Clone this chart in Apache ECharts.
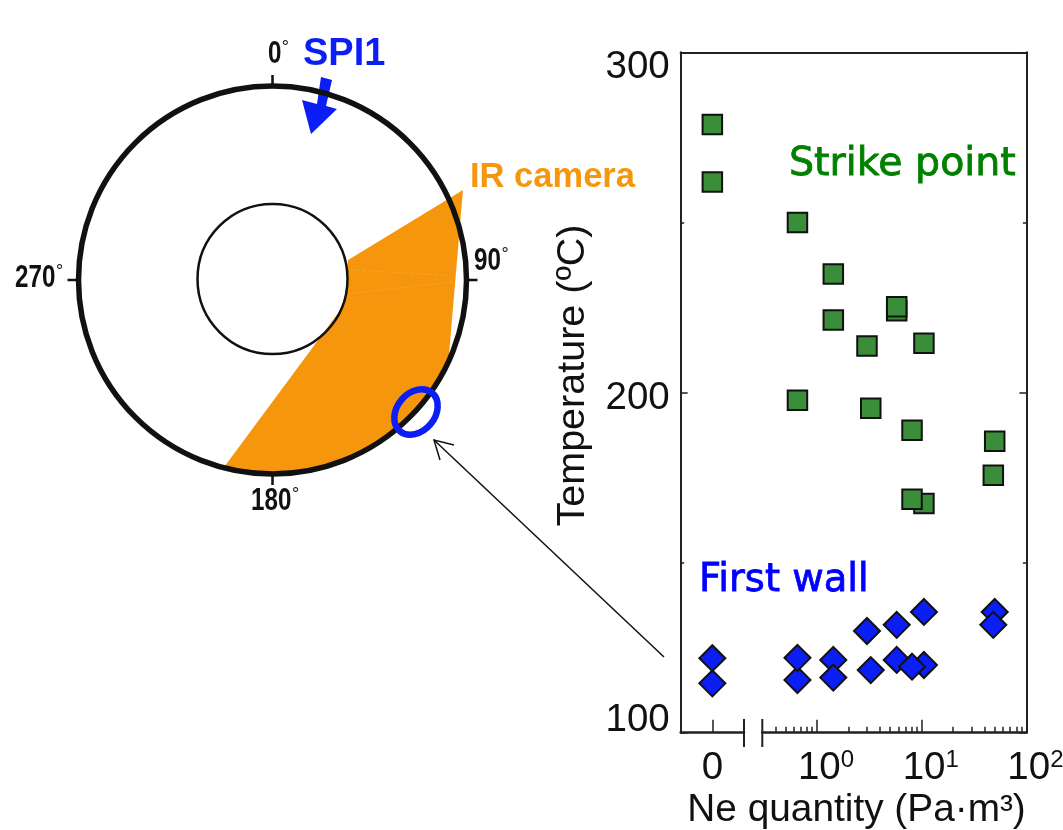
<!DOCTYPE html>
<html>
<head>
<meta charset="utf-8">
<title>Ne quantity and temperature</title>
<script src="https://cdn.jsdelivr.net/npm/echarts@6/dist/echarts.min.js"></script>
<style>
html,body{margin:0;padding:0;background:#fff;overflow:hidden;}
#main{width:1063px;height:830px;}
</style>
</head>
<body>
<div id="main"></div>
<script>
// scatter values
let spZeroTemp = [278.8, 261.9];
let spNe = [0.65, 1.43, 1.43, 5.77, 5.77, 3.0, 10.5, 0.65, 3.26, 8.08, 49.8, 48.3, 10.5, 8.08];
let spTemp = [250.0, 234.8, 221.3, 224.0, 225.2, 213.7, 214.5, 197.7, 195.4, 188.9, 185.7, 175.7, 167.4, 168.6];
let fwZeroTemp = [114.5, 121.9];
let fwNe = [0.65, 0.65, 1.43, 1.43, 3.0, 3.26, 5.77, 5.77, 10.5, 8.08, 10.5, 49.8, 48.3];
let fwTemp = [115.5, 122.0, 121.4, 116.2, 129.9, 118.4, 131.7, 121.4, 119.9, 119.4, 135.5, 135.5, 131.7];

// axis ticks
let logMajor = [1, 10, 100];
let logMinor = [0.4, 0.5, 0.6, 0.7, 0.8, 0.9, 2, 3, 4, 5, 6, 7, 8, 9, 20, 30, 40, 50, 60, 70, 80, 90];

// IR camera view on the torus section, radius 1 = vessel wall, angle clockwise from top
let irRadius = [1.086, 0.403, 0.387, 0.387, 0.387, 0.38, 1, 1, 1, 1, 1, 1, 0.99];
let irAngle = [64.7, 75.2, 85, 95, 105, 115.7, 194.6, 180, 165, 150, 135, 125, 113.3];
let seamARadius = [0.403, 0.9];
let seamAAngle = [82.6, 88.4];
let seamBRadius = [0.42, 0.93];
let seamBAngle = [99.2, 90.6];

let FONT = '"Liberation Sans", Arial, sans-serif';
let AXIS_COLOR = '#222';
let GREEN = '#3a8e3a';
let BLUE = '#0a1ef5';

function pairs(a, b){
    var out = [];
    for(var i=0;i<a.length;i++){
        out.push([a[i], b[i]]);
    }
    return out;
}

function yHidden(grid){
    return {type:'value', gridIndex:grid, min:100, max:300, show:false};
}

function scatter(name, xIndex, yIndex, data, symbol, size, color){
    return {
        name: name,
        type: 'scatter',
        xAxisIndex: xIndex,
        yAxisIndex: yIndex,
        data: data,
        symbol: symbol,
        symbolSize: size,
        itemStyle: {color: color, borderColor: '#111', borderWidth: 2, opacity: 1},
        z: 5
    };
}

function seam(radius, angle){
    return {
        type: 'line',
        coordinateSystem: 'polar',
        polarIndex: 0,
        data: pairs(radius, angle),
        symbol: 'none',
        silent: true,
        lineStyle: {color: '#f7a22c', width: 1, type: 'dashed'},
        z: 2
    };
}

// narrow tall degree labels, no condensed font is installed so the text is squeezed
function angleText(label, x, y){
    return [
        {
            type: 'text', x: x, y: y, scaleX: 0.78, z: 6,
            style: {text: label, font: 'bold 31px ' + FONT, fill: '#111', align: 'left', verticalAlign: 'middle'}
        },
        {
            type: 'text', x: x + label.length * 13.7, y: y - 6, z: 6,
            style: {text: '°', font: '18px ' + FONT, fill: '#111', align: 'left', verticalAlign: 'middle'}
        }
    ];
}

let tickLabelRich = {
    b: {fontFamily: FONT, fontSize: 38.5, color: '#111', lineHeight: 40},
    s: {fontFamily: FONT, fontSize: 24, color: '#111', verticalAlign: 'top', lineHeight: 40, padding: [0,0,14,0]}
};

// the temperature labels sit off their ticks in the figure
let tempLabelRich = {
    t300: {fontFamily: FONT, fontSize: 38.5, color: '#111', padding: [30,0,0,0]},
    t200: {fontFamily: FONT, fontSize: 38.5, color: '#111', padding: [12,0,0,0]},
    t100: {fontFamily: FONT, fontSize: 38.5, color: '#111', padding: [0,0,24,0]}
};

option = {
    animation: false,
    backgroundColor: '#fff',
    grid: [
        {left: 680.7, top: 52.3, width: 63.3, height: 680.4, outerBoundsMode: 'none'},
        {left: 762.3, top: 52.3, width: 264.1, height: 680.4, outerBoundsMode: 'none'},
        {left: 680.7, top: 52.3, width: 345.7, height: 680.4, outerBoundsMode: 'none'}
    ],
    xAxis: [
        {
            type: 'value', gridIndex: 0, position: 'bottom', min: -1, max: 1,
            splitLine: {show: false},
            axisLine: {lineStyle: {color: AXIS_COLOR, width: 2.5}},
            axisTick: {inside: true, length: 13, customValues: [0], lineStyle: {color: AXIS_COLOR, width: 1.5}},
            axisLabel: {customValues: [0], margin: 16, fontFamily: FONT, fontSize: 38.5, color: '#111'}
        },
        {
            type: 'log', gridIndex: 1, position: 'bottom', logBase: 10, min: 0.3, max: 100,
            splitLine: {show: false},
            axisLine: {lineStyle: {color: AXIS_COLOR, width: 2.5}},
            axisTick: {inside: true, length: 13, customValues: logMajor, lineStyle: {color: AXIS_COLOR, width: 1.5}},
            axisLabel: {
                customValues: logMajor, margin: 16, rich: tickLabelRich,
                padding: [0, 0, 0, 18],
                formatter: function(v){ return '{b|10}{s|' + Math.round(Math.log10(v)) + '}'; }
            }
        },
        {
            type: 'log', gridIndex: 1, position: 'bottom', logBase: 10, min: 0.3, max: 100,
            splitLine: {show: false},
            axisLine: {show: false},
            axisLabel: {show: false},
            axisTick: {inside: true, length: 6, customValues: logMinor, lineStyle: {color: AXIS_COLOR, width: 1.5}}
        },
        {
            type: 'value', gridIndex: 2, position: 'top', min: 0, max: 1,
            splitLine: {show: false},
            axisLine: {lineStyle: {color: AXIS_COLOR, width: 2}},
            axisTick: {show: false}, axisLabel: {show: false}
        },
        {
            type: 'value', gridIndex: 2, position: 'bottom', min: 0, max: 1,
            splitLine: {show: false},
            axisLine: {show: false}, axisTick: {show: false}, axisLabel: {show: false},
            name: 'Ne quantity (Pa·m³)',
            nameLocation: 'middle',
            nameGap: 58,
            nameTextStyle: {fontFamily: FONT, fontSize: 38.8, color: '#111', padding: [0,0,0,6]}
        }
    ],
    yAxis: [
        yHidden(0),
        yHidden(1),
        {
            type: 'value', gridIndex: 2, position: 'left', min: 100, max: 300, interval: 100,
            splitLine: {show: false},
            axisLine: {onZero: false, lineStyle: {color: AXIS_COLOR, width: 2}},
            axisTick: {inside: true, length: 7, lineStyle: {color: AXIS_COLOR, width: 1.5}},
            minorTick: {show: true, splitNumber: 2, length: 3.5, lineStyle: {color: AXIS_COLOR, width: 1.5}},
            minorSplitLine: {show: false},
            axisLabel: {
                margin: 11, rich: tempLabelRich,
                formatter: function(v){ return '{t' + v + '|' + v + '}'; }
            },
            name: 'Temperature (ºC)',
            nameLocation: 'middle',
            nameGap: 88,
            nameTextStyle: {fontFamily: FONT, fontSize: 39.5, color: '#111', padding: [0,0,0,34]}
        },
        {
            type: 'value', gridIndex: 2, position: 'right', min: 100, max: 300, interval: 100,
            splitLine: {show: false},
            axisLine: {onZero: false, lineStyle: {color: AXIS_COLOR, width: 2}},
            axisTick: {inside: true, length: 7, lineStyle: {color: AXIS_COLOR, width: 1.5}},
            minorTick: {show: true, splitNumber: 2, length: 3.5, lineStyle: {color: AXIS_COLOR, width: 1.5}},
            axisLabel: {show: false}
        }
    ],
    polar: [
        {center: [272.5, 280], radius: 194},
        {center: [272.5, 279], radius: 75}
    ],
    angleAxis: [
        {
            polarIndex: 0, type: 'value', min: 0, max: 360, interval: 90, startAngle: 90, clockwise: true, z: 4,
            splitLine: {show: false},
            axisLine: {lineStyle: {color: '#111', width: 5.5}},
            axisTick: {length: 11, lineStyle: {color: '#111', width: 2.5}},
            axisLabel: {show: false}
        },
        {
            polarIndex: 1, type: 'value', min: 0, max: 360, startAngle: 90, z: 4,
            splitLine: {show: false},
            axisLine: {lineStyle: {color: '#111', width: 2.5}},
            axisTick: {show: false},
            axisLabel: {show: false}
        }
    ],
    radiusAxis: [
        {polarIndex: 0, type: 'value', min: 0, max: 1, show: false},
        {polarIndex: 1, type: 'value', min: 0, max: 1, show: false}
    ],
    graphic: [
        // SPI1 injector arrow, sits under the vessel ring
        {
            type: 'polygon', z: 0,
            shape: {points: [[321,77],[332,80],[326,106],[337,109],[311,134],[302,100],[317,104]]},
            style: {fill: '#0a1ef5'}
        },
        {type: 'text', x: 303, y: 36, z: 6, style: {text: 'SPI1', font: 'bold 38px ' + FONT, fill: '#0a1ef5'}},
        {type: 'text', x: 470, y: 160, z: 6, style: {text: 'IR camera', font: 'bold 34.5px ' + FONT, fill: '#f6960c'}},
        {type: 'text', x: 789, y: 145, z: 6, style: {text: 'Strike point', font: '39.5px "DejaVu Sans"', fill: '#008000', stroke: '#008000', lineWidth: 0.8}},
        {type: 'text', x: 699, y: 561, z: 6, style: {text: 'First wall', font: '38.5px "DejaVu Sans"', fill: '#0000ff', stroke: '#0000ff', lineWidth: 0.8}},
        // measured spot
        {
            type: 'ellipse', x: 416, y: 412, rotation: 50 * Math.PI / 180, z: 10,
            shape: {cx: 0, cy: 0, rx: 25, ry: 19},
            style: {fill: 'none', stroke: '#0a1ef5', lineWidth: 6.5}
        },
        // pointer from the spot to the first wall points
        {type: 'polyline', z: 6, shape: {points: [[664,657],[434,440]]}, style: {stroke: '#111', lineWidth: 1.5, fill: 'none'}},
        {type: 'polyline', z: 6, shape: {points: [[454,445],[434,440],[440,460]]}, style: {stroke: '#111', lineWidth: 1.5, fill: 'none'}},
        // axis break marks
        {type: 'line', z: 6, shape: {x1: 744, y1: 719, x2: 744, y2: 747}, style: {stroke: AXIS_COLOR, lineWidth: 2}},
        {type: 'line', z: 6, shape: {x1: 762.3, y1: 719, x2: 762.3, y2: 747}, style: {stroke: AXIS_COLOR, lineWidth: 2}}
    ].concat(angleText('0', 268, 54), angleText('90', 474, 261), angleText('180', 251, 501), angleText('270', 15, 278)),
    series: [
        {
            type: 'custom',
            coordinateSystem: 'polar',
            polarIndex: 0,
            data: pairs(irRadius, irAngle),
            silent: true,
            z: 1,
            renderItem: function(params, api){
                if(params.dataIndex !== 0){
                    return null;
                }
                var points = [];
                for(var i=0;i<irRadius.length;i++){
                    points.push(api.coord([irRadius[i], irAngle[i]]));
                }
                return {type: 'polygon', shape: {points: points}, style: {fill: '#f6960c'}};
            }
        },
        seam(seamARadius, seamAAngle),
        seam(seamBRadius, seamBAngle),
        scatter('Strike point', 0, 0, spZeroTemp.map(function(t){ return [0, t]; }), 'rect', 19.5, GREEN),
        scatter('Strike point', 1, 1, pairs(spNe, spTemp), 'rect', 19.5, GREEN),
        scatter('First wall', 0, 0, fwZeroTemp.map(function(t){ return [0, t]; }), 'diamond', 26, BLUE),
        scatter('First wall', 1, 1, pairs(fwNe, fwTemp), 'diamond', 26, BLUE)
    ]
};

myChart = echarts.init(document.getElementById('main'));
myChart.setOption(option);
</script>
</body>
</html>
